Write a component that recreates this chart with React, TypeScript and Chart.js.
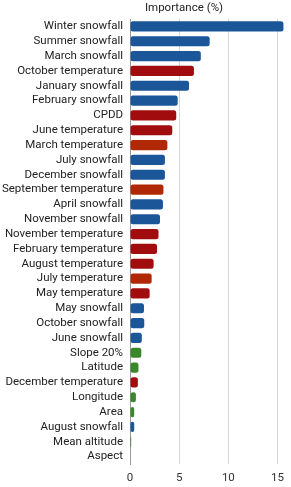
import React, { useEffect, useRef } from "react";
import { Chart, registerables } from "chart.js";

Chart.register(...registerables);

const categories = [
  "Winter snowfall", "Summer snowfall", "March snowfall", "October temperature",
  "January snowfall", "February snowfall", "CPDD", "June temperature",
  "March temperature", "July snowfall", "December snowfall", "September temperature",
  "April snowfall", "November snowfall", "November temperature", "February temperature",
  "August temperature", "July temperature", "May temperature", "May snowfall",
  "October snowfall", "June snowfall", "Slope 20%", "Latitude",
  "December temperature", "Longitude", "Area", "August snowfall",
  "Mean altitude", "Aspect",
];

const importance = [
  15.6, 8.1, 7.2, 6.5,
  6.0, 4.85, 4.7, 4.3,
  3.8, 3.55, 3.55, 3.4,
  3.35, 3.05, 2.9, 2.75,
  2.4, 2.2, 2.0, 1.42,
  1.45, 1.2, 1.15, 0.86,
  0.8, 0.6, 0.43, 0.43,
  0.12, 0.05,
];

// b = snowfall (blue), r = temperature (dark red), o = temperature (orange-red), g = topography (green)
const groups = [
  "b", "b", "b", "r",
  "b", "b", "r", "r",
  "o", "b", "b", "o",
  "b", "b", "r", "r",
  "r", "o", "r", "b",
  "b", "b", "g", "g",
  "r", "g", "g", "b",
  "g", "g",
];

const xTicks = [0, 5, 10, 15];
const axisTitle = "Importance (%)";

const palette: Record<string, string> = {
  b: "#1b5699",
  r: "#a10d0f",
  o: "#b02806",
  g: "#3b872b",
};

export default function App() {
  const ref = useRef<HTMLCanvasElement | null>(null);
  useEffect(() => {
    if (!ref.current) return;
    const titlePlugin = {
      id: "topTitle",
      afterDraw(chart: any) {
        const ctx = chart.ctx;
        ctx.save();
        ctx.font = "11.5px Roboto";
        ctx.fillStyle = "#222";
        ctx.textAlign = "center";
        ctx.textBaseline = "middle";
        ctx.fillText(axisTitle, 184, 8);
        ctx.restore();
      },
    };
    const chart = new Chart(ref.current, {
      type: "bar",
      data: {
        labels: categories,
        datasets: [
          {
            data: importance,
            backgroundColor: groups.map((g) => palette[g]),
            borderRadius: 2.5,
            borderSkipped: false,
            barPercentage: 0.68,
            categoryPercentage: 1,
          },
        ],
      },
      options: {
        indexAxis: "y",
        animation: false,
        responsive: false,
        layout: { padding: { top: 19, bottom: 0, left: 0, right: 0 } },
        plugins: { legend: { display: false }, tooltip: { enabled: false }, title: { display: false } },
        scales: {
          x: {
            min: 0,
            max: 16,
            afterBuildTicks: (axis: any) => {
              axis.ticks = xTicks.map((v) => ({ value: v }));
            },
            afterFit: (axis: any) => {
              axis.height = 23;
            },
            grid: { color: "#d6d6d6", drawTicks: false, lineWidth: 1 },
            border: { display: false },
            ticks: { color: "#333", font: { family: "Roboto", size: 11.5 }, padding: 7 },
          },
          y: {
            afterFit: (axis: any) => {
              axis.width = 130;
            },
            grid: { display: false, drawTicks: false },
            border: { display: true, color: "#9a9a9a", width: 1 },
            ticks: { color: "#222", font: { family: "Roboto", size: 11.5 }, padding: 7, autoSkip: false },
          },
        },
      },
      plugins: [titlePlugin],
    });
    return () => chart.destroy();
  }, []);
  return (
    <div style={{ position: "absolute", left: 0, top: 0, width: 291, height: 487 }}>
      <canvas ref={ref} width={291} height={487} />
    </div>
  );
}
